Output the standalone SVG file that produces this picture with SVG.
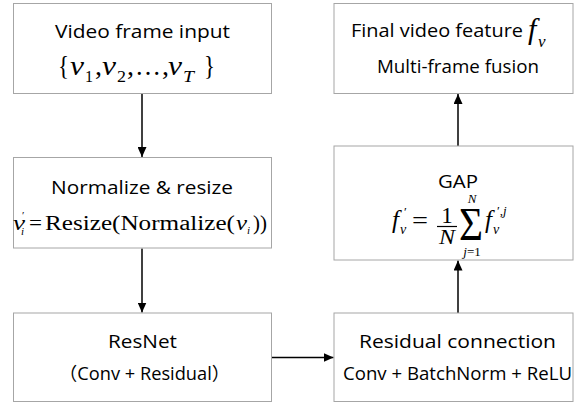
<svg xmlns="http://www.w3.org/2000/svg" width="574" height="405" viewBox="0 0 574 405">
<defs>
<style>
.box{fill:#fff;stroke:#a6a6a6;stroke-width:1}
.t{font-family:"Open Sans","Noto Sans CJK SC",sans-serif;fill:#000;text-anchor:middle}
.m{font-family:"Liberation Serif","Times New Roman",serif;fill:#000}
.i{font-style:italic}
.edge{stroke:#000;stroke-width:1.5;fill:none}
</style>
<marker id="ah" markerUnits="userSpaceOnUse" markerWidth="10" markerHeight="9" refX="10" refY="4.5" orient="auto" viewBox="0 0 10 9">
<path d="M0,0 L10,4.5 L0,9 z" fill="#000"/>
</marker>
</defs>
<rect width="574" height="405" fill="#fff"/>

<g id="connectors">
<line class="edge" x1="142" y1="94" x2="142" y2="157" marker-end="url(#ah)"/>
<line class="edge" x1="142" y1="248.5" x2="142" y2="312.5" marker-end="url(#ah)"/>
<line class="edge" x1="272" y1="357.5" x2="333.5" y2="357.5" marker-end="url(#ah)"/>
<line class="edge" x1="458" y1="313" x2="458" y2="260.5" marker-end="url(#ah)"/>
<line class="edge" x1="458" y1="146" x2="458" y2="94" marker-end="url(#ah)"/>
</g>

<g id="video-input">
<rect class="box" x="13.5" y="3.5" width="258" height="90"/>
<text class="t" x="142.5" y="38" font-size="19" textLength="175" lengthAdjust="spacingAndGlyphs">Video frame input</text>
<text class="m" x="58" y="75" font-size="28" textLength="11" lengthAdjust="spacingAndGlyphs">{</text>
<text class="m i" x="70" y="75" font-size="28" textLength="14" lengthAdjust="spacingAndGlyphs">v</text>
<text class="m" x="85" y="82" font-size="17" textLength="8" lengthAdjust="spacingAndGlyphs">1</text>
<text class="m" x="95" y="75" font-size="28">,</text>
<text class="m i" x="102" y="75" font-size="28" textLength="14" lengthAdjust="spacingAndGlyphs">v</text>
<text class="m" x="117" y="82" font-size="17" textLength="9" lengthAdjust="spacingAndGlyphs">2</text>
<text class="m" x="127" y="75" font-size="28">,</text>
<text class="m" x="135" y="75" font-size="28" textLength="26" lengthAdjust="spacingAndGlyphs">…</text>
<text class="m" x="162" y="75" font-size="28">,</text>
<text class="m i" x="168" y="75" font-size="28" textLength="14" lengthAdjust="spacingAndGlyphs">v</text>
<text class="m i" x="183" y="82" font-size="17" textLength="11" lengthAdjust="spacingAndGlyphs">T</text>
<text class="m" x="204" y="75" font-size="28" textLength="11" lengthAdjust="spacingAndGlyphs">}</text>
</g>

<g id="normalize">
<rect class="box" x="13.5" y="157.5" width="258" height="90.5"/>
<text class="t" x="142" y="194" font-size="19" textLength="182" lengthAdjust="spacingAndGlyphs">Normalize &amp; resize</text>
<text class="m i" x="13" y="230" font-size="21" textLength="12" lengthAdjust="spacingAndGlyphs">v</text>
<text class="m" x="22" y="219" font-size="11">′</text>
<text class="m i" x="21" y="235" font-size="11">i</text>
<text class="m" x="29" y="230" font-size="21" textLength="13" lengthAdjust="spacingAndGlyphs">=</text>
<text class="m" x="45" y="230" font-size="20" textLength="190" lengthAdjust="spacingAndGlyphs">Resize(Normalize(</text>
<text class="m i" x="236" y="230" font-size="21" textLength="11" lengthAdjust="spacingAndGlyphs">v</text>
<text class="m i" x="247" y="234" font-size="11">i</text>
<text class="m" x="253" y="230" font-size="20" textLength="14" lengthAdjust="spacingAndGlyphs">))</text>
</g>

<g id="resnet">
<rect class="box" x="13.5" y="313" width="258" height="88.5"/>
<text class="t" x="142.5" y="348" font-size="19" textLength="69" lengthAdjust="spacingAndGlyphs">ResNet</text>
<text class="t" x="144.5" y="380" font-size="18" textLength="171" lengthAdjust="spacingAndGlyphs">（Conv + Residual）</text>
</g>

<g id="residual">
<rect class="box" x="334" y="313" width="239" height="88.5"/>
<text class="t" x="457.5" y="348" font-size="19" textLength="197" lengthAdjust="spacingAndGlyphs">Residual connection</text>
<text class="t" x="457.5" y="380" font-size="18" textLength="229" lengthAdjust="spacingAndGlyphs">Conv + BatchNorm + ReLU</text>
</g>

<g id="gap">
<rect class="box" x="334" y="146" width="239" height="114"/>
<text class="t" x="458" y="188" font-size="19" textLength="40" lengthAdjust="spacingAndGlyphs">GAP</text>
<text class="m i" x="392" y="228" font-size="25">f</text>
<text class="m" x="404" y="216" font-size="13">′</text>
<text class="m i" x="400" y="234" font-size="14">v</text>
<text class="m" x="412" y="228" font-size="24" textLength="16" lengthAdjust="spacingAndGlyphs">=</text>
<text class="m" x="447" y="223" font-size="23" text-anchor="middle">1</text>
<line x1="437" y1="226.5" x2="457" y2="226.5" stroke="#000" stroke-width="1.2"/>
<text class="m i" x="447" y="244" font-size="22" text-anchor="middle" textLength="16" lengthAdjust="spacingAndGlyphs">N</text>
<text class="m" x="471" y="240" font-size="46" text-anchor="middle" textLength="24" lengthAdjust="spacingAndGlyphs">Σ</text>
<text class="m i" x="472" y="203" font-size="13" text-anchor="middle">N</text>
<text class="m" x="472" y="256" font-size="13" text-anchor="middle"><tspan font-style="italic">j</tspan>=1</text>
<text class="m i" x="485" y="228" font-size="25">f</text>
<text class="m" x="497" y="215" font-size="13">′,<tspan font-style="italic">j</tspan></text>
<text class="m i" x="493" y="234" font-size="14">v</text>
</g>

<g id="final">
<rect class="box" x="334" y="3.5" width="239" height="90"/>
<text class="t" x="437" y="37" font-size="19" textLength="172" lengthAdjust="spacingAndGlyphs">Final video feature</text>
<text class="m i" x="528" y="39" font-size="30">f</text>
<text class="m i" x="538" y="47" font-size="17">v</text>
<text class="t" x="458" y="72.5" font-size="18" textLength="162" lengthAdjust="spacingAndGlyphs">Multi-frame fusion</text>
</g>
</svg>
